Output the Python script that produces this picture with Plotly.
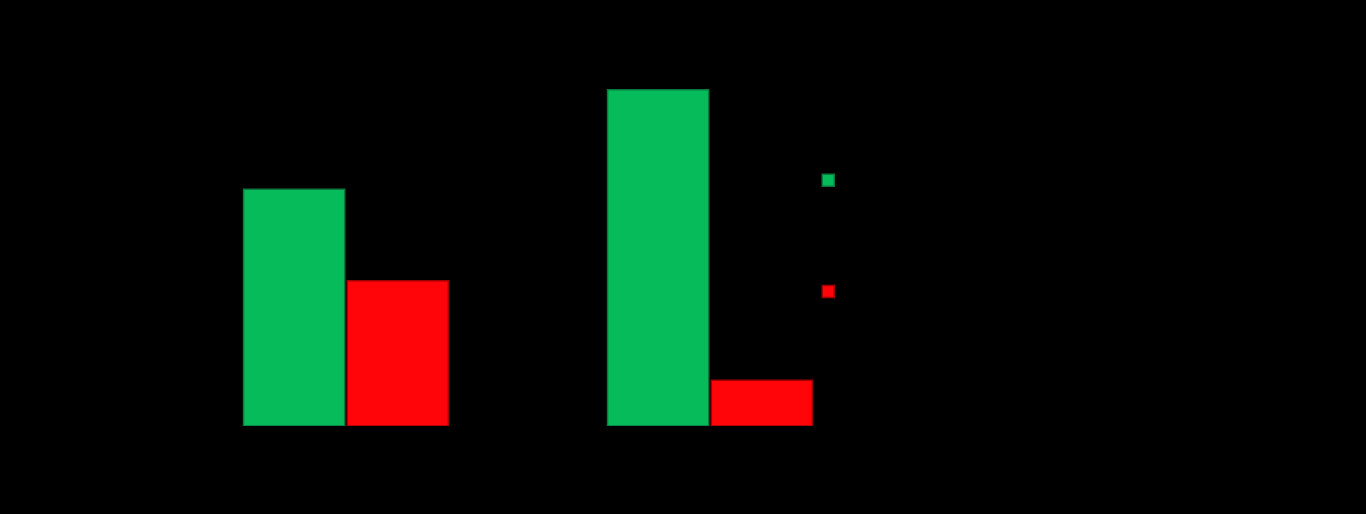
import plotly.graph_objects as go

categories = ["Category 1", "Category 2"]
series_names = ["Series 1", "Series 2"]
green_values = [62, 88]
red_values = [38, 12]

fig = go.Figure()
fig.add_trace(go.Bar(
    x=categories, y=green_values, name=series_names[0],
    marker=dict(color="#06BC5A", line=dict(color="#0B7A3E", width=1.5)),
    legendgroup="g1",
))
fig.add_trace(go.Bar(
    x=categories, y=red_values, name=series_names[1],
    marker=dict(color="#FF0408", line=dict(color="#A00000", width=1.5)),
    legendgroup="g2",
))

fig.update_layout(
    width=1366, height=514,
    paper_bgcolor="black", plot_bgcolor="black",
    margin=dict(l=164, r=474, t=44, b=88),
    barmode="group", bargap=0.43, bargroupgap=0.025,
    font=dict(family="Liberation Sans", color="black", size=14),
    xaxis=dict(showgrid=False, zeroline=False, showline=False,
               tickfont=dict(color="black")),
    yaxis=dict(range=[0, 100], showgrid=False, zeroline=False,
               showline=False, showticklabels=False),
    showlegend=True,
    legend=dict(x=0.885, xanchor="left", y=0.684, yanchor="top",
                bgcolor="rgba(0,0,0,0)", font=dict(color="black", size=14),
                tracegroupgap=90, itemwidth=30),
)

fig.write_html(
    "out.html",
    config={"displayModeBar": False},
    post_script="document.body.style.margin='0';document.body.style.background='black';",
)
